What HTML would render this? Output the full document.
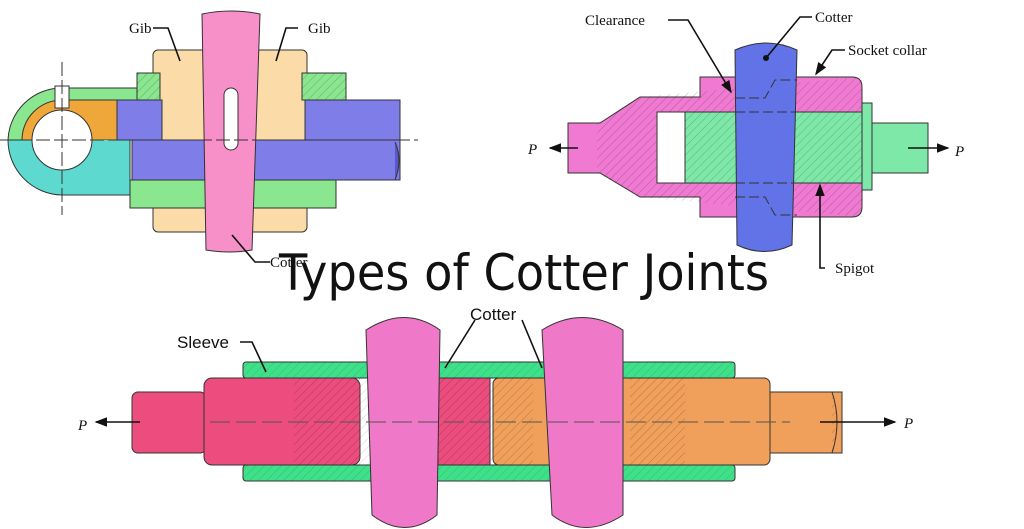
<!DOCTYPE html>
<html><head><meta charset="utf-8"><style>
html,body{margin:0;padding:0;background:#fff;width:1024px;height:529px;overflow:hidden}
svg{display:block}
.lbl{font-family:"Liberation Serif",serif;font-size:15px;fill:#111}
.lbs{font-family:"Liberation Sans",sans-serif;font-size:17px;fill:#111}
.st{stroke:#333;stroke-width:1}
.ln{stroke:#111;stroke-width:1.6;fill:none}
</style></head><body>
<svg width="1024" height="529" viewBox="0 0 1024 529" xmlns="http://www.w3.org/2000/svg">
<defs>
<pattern id="h" width="6" height="6" patternUnits="userSpaceOnUse" patternTransform="rotate(45)"><line x1="0" y1="0" x2="0" y2="6" stroke="#000" stroke-opacity="0.25" stroke-width="1"/></pattern>
<marker id="ar" markerWidth="8" markerHeight="8" refX="7" refY="4" orient="auto"><path d="M0,1 L8,4 L0,7z" fill="#111"/></marker>
</defs>
<rect width="1024" height="529" fill="#fff"/>

<!-- ===== Top-left: gib & cotter ===== -->
<rect x="153" y="50" width="154" height="182" rx="5" fill="#fbdca8" class="st"/>
<path d="M62,88 L160,88 L160,100 L117,100 L117,140 L8,140 A54,54 0 0 1 62,88z" fill="#8ae68f" class="st"/>
<rect x="137" y="73" width="23" height="27" fill="#8ae68f" class="st"/>
<rect x="137" y="73" width="23" height="27" fill="url(#h)"/>
<rect x="302" y="73" width="44" height="27" fill="#8ae68f" class="st"/>
<rect x="302" y="73" width="44" height="27" fill="url(#h)"/>
<path d="M62,100 L117,100 L117,140 L22,140 A40,40 0 0 1 62,100z" fill="#f0a73a" class="st"/>
<path d="M8,140 L130,140 L130,195 L62,195 A55,55 0 0 1 8,140z" fill="#5ed9cf" class="st"/>
<path d="M22,140 L117,140 L117,182 L62,182 A42,42 0 0 1 22,140z" fill="#5ed9cf"/>
<circle cx="62" cy="140" r="30" fill="#fff" class="st"/>
<rect x="55" y="86" width="14" height="22" fill="#fff" class="st"/>
<rect x="117" y="100" width="45" height="40" fill="#7f7de8" class="st"/>
<rect x="305" y="100" width="95" height="40" fill="#7f7de8" class="st"/>
<rect x="132" y="140" width="268" height="40" fill="#7f7de8" class="st"/>
<path d="M395,142 q8,18 0,38" fill="#5a57c8" class="st"/>
<rect x="130" y="180" width="206" height="28" fill="#8ae68f" class="st"/>
<path d="M202,14 Q231,8 260,14 L252,250 Q230,254 206,250z" fill="#f78fc8" class="st"/>
<rect x="224" y="88" width="14" height="62" rx="7" fill="#fff" class="st"/>
<line x1="0" y1="140" x2="418" y2="140" stroke="#333" stroke-dasharray="14,4"/>
<line x1="62" y1="62" x2="62" y2="215" stroke="#333" stroke-dasharray="14,4"/>
<path class="ln" d="M153,28 L168,28 L180,61"/>
<path class="ln" d="M298,28 L286,28 L276,61"/>
<path class="ln" d="M232,235 L255,262 L270,262"/>
<text x="129" y="33" class="lbl">Gib</text>
<text x="308" y="33" class="lbl">Gib</text>
<text x="270" y="267" class="lbl">Cotter</text>

<!-- ===== Top-right: socket & spigot ===== -->
<path d="M568,123 L600,123 L600,123 L640,97 L700,97 L700,77 L852,77 Q862,77 862,87 L862,207 Q862,217 852,217 L700,217 L700,197 L640,197 L600,173 L568,173z" fill="#f07ad2" class="st"/>
<path d="M597,123 L640,97 L862,77 L862,217 L640,197 L597,173z" fill="url(#h)"/>
<rect x="657" y="112" width="28" height="71" fill="#fff" class="st"/>
<rect x="685" y="112" width="177" height="71" fill="#7ee8a8" class="st"/>
<rect x="685" y="112" width="177" height="71" fill="url(#h)"/>
<rect x="862" y="103" width="10" height="87" fill="#7ee8a8" class="st"/>
<path d="M872,123 L928,123 L928,173 L872,173z" fill="#7ee8a8" class="st"/>
<path d="M735,50 Q766,36 797,50 L792,245 Q764,258 737,245z" fill="#6273e8" class="st"/>
<path d="M735,98 L765,98 L775,80 L797,80 M735,112 L862,112 M735,183 L862,183 M735,197 L765,197 L775,215 L797,215" stroke="#333" stroke-dasharray="10,4" fill="none"/>
<path class="ln" d="M668,20 L688,20 L731,92" marker-end="url(#ar)"/>
<path class="ln" d="M812,17 L800,17 L766,58"/><circle cx="766" cy="58" r="3" fill="#111"/>
<path class="ln" d="M845,50 L832,50 L816,74" marker-end="url(#ar)"/>
<path class="ln" d="M825,268 L820,268 L820,185" marker-end="url(#ar)"/>
<line x1="578" y1="148" x2="550" y2="148" class="ln" marker-end="url(#ar)"/>
<line x1="908" y1="148" x2="948" y2="148" class="ln" marker-end="url(#ar)"/>
<text x="585" y="25" class="lbl">Clearance</text>
<text x="815" y="22" class="lbl">Cotter</text>
<text x="848" y="55" class="lbl">Socket collar</text>
<text x="835" y="273" class="lbl">Spigot</text>
<text x="528" y="154" class="lbl" font-style="italic" font-size="17">P</text>
<text x="955" y="156" class="lbl" font-style="italic" font-size="17">P</text>

<!-- ===== Title ===== -->
<text x="524" y="290" text-anchor="middle" font-family="'DejaVu Sans','Liberation Sans',sans-serif" font-size="50" fill="#111" textLength="490" lengthAdjust="spacingAndGlyphs">Types of Cotter Joints</text>

<!-- ===== Bottom: sleeve & cotter ===== -->
<rect x="243" y="362" width="492" height="16" rx="3" fill="#3fe08a" class="st"/>
<rect x="243" y="465" width="492" height="16" rx="3" fill="#3fe08a" class="st"/>
<rect x="243" y="362" width="492" height="119" fill="url(#h)" opacity="0.6" style="mask:none"/>
<rect x="132" y="392" width="74" height="61" rx="6" fill="#ec4d7e" class="st"/>
<rect x="204" y="378" width="156" height="87" rx="8" fill="#ec4d7e" class="st"/>
<rect x="294" y="378" width="66" height="87" fill="url(#h)"/>
<rect x="438" y="378" width="52" height="87" fill="#ec4d7e" class="st"/>
<rect x="438" y="378" width="52" height="87" fill="url(#h)"/>
<rect x="493" y="378" width="277" height="87" rx="6" fill="#f0a05a" class="st"/>
<rect x="493" y="378" width="40" height="87" fill="url(#h)"/>
<rect x="630" y="378" width="55" height="87" fill="url(#h)"/>
<rect x="770" y="392" width="72" height="61" fill="#f0a05a" class="st"/>
<path d="M832,392 q10,30 0,61" fill="url(#h)" stroke="#333"/>
<path d="M366,330 Q405,305 440,330 L437,515 Q405,540 372,515z" fill="#ef78c8" class="st"/>
<path d="M542,330 Q582,305 623,330 L623,515 Q585,540 552,515z" fill="#ef78c8" class="st"/>
<line x1="210" y1="422" x2="790" y2="422" stroke="#555" stroke-dasharray="20,6"/>
<line x1="140" y1="422" x2="96" y2="422" class="ln" marker-end="url(#ar)"/>
<line x1="820" y1="422" x2="895" y2="422" class="ln" marker-end="url(#ar)"/>
<text x="78" y="430" class="lbl" font-style="italic" font-size="20">P</text>
<text x="904" y="428" class="lbl" font-style="italic" font-size="20">P</text>
<path class="ln" d="M240,342 L252,342 L266,372"/>
<path class="ln" d="M475,320 L445,368"/>
<path class="ln" d="M522,320 L542,368"/>
<text x="177" y="348" class="lbs">Sleeve</text>
<text x="470" y="320" class="lbs">Cotter</text>
</svg>
</body></html>
